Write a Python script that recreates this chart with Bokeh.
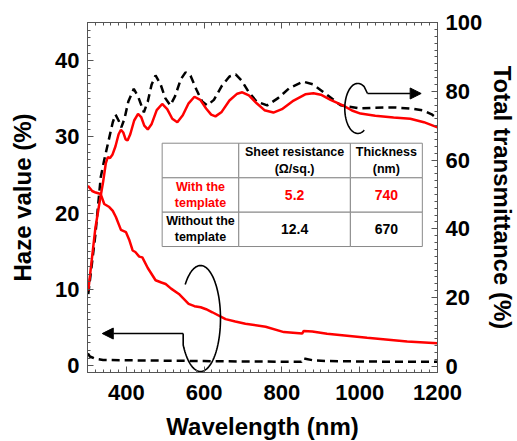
import numpy as np
from bokeh.plotting import figure
from bokeh.models import Range1d, LinearAxis, SingleIntervalTicker, Arrow, NormalHead, CustomJSTickFormatter
from bokeh.core.properties import value
from bokeh.embed import file_html
from bokeh.resources import INLINE

# ---------------- data ----------------
# Total transmittance, with the template (red, right axis)
tw_x = [302, 310, 320, 330, 340, 347, 352, 358, 364, 372, 380, 386, 392, 398, 403, 410, 420, 430, 438,
        446, 455, 465, 478, 492, 505, 518, 531, 545, 560, 575, 590, 605, 618, 629, 645, 665, 685, 698,
        715, 735, 755, 778, 800, 830, 860, 881, 900, 925, 958, 980, 1002, 1040, 1087, 1130, 1165, 1200]
tw_y = [22.0, 30.0, 40.0, 47.0, 53.5, 59.0, 60.8, 60.6, 61.5, 64.0, 67.5, 68.8, 68.0, 66.0, 65.7, 67.5,
        71.5, 73.4, 72.5, 70.0, 68.9, 70.5, 74.5, 76.3, 74.8, 72.0, 71.0, 73.0, 76.5, 78.4, 77.5, 75.0,
        73.2, 72.7, 74.0, 77.3, 79.3, 79.7, 78.8, 76.5, 74.5, 73.8, 74.8, 77.3, 79.1, 79.4, 79.0, 77.5,
        75.8, 74.4, 73.5, 72.9, 72.4, 72.0, 71.0, 69.5]

# Total transmittance, without the template (black dashed, right axis)
two_x = [302, 320, 334, 343, 355, 365, 372, 380, 387, 395, 405, 419, 430, 445, 455, 465, 475, 488, 500,
         513, 525, 540, 552, 565, 580, 595, 608, 625, 645, 665, 681, 697, 715, 735, 762, 790, 820, 855,
         880, 910, 951, 1002, 1040, 1087, 1130, 1164, 1185, 1200]
two_y = [21.0, 38.0, 55.0, 60.0, 66.0, 71.0, 73.2, 71.5, 69.5, 72.0, 77.0, 80.7, 78.5, 73.9, 77.0, 82.0,
         84.6, 82.0, 78.0, 75.9, 78.5, 83.5, 85.5, 84.5, 80.5, 77.0, 75.9, 77.5, 81.5, 84.3, 84.9, 83.0,
         79.7, 77.0, 75.9, 78.0, 81.0, 82.8, 82.0, 79.5, 75.9, 75.0, 75.2, 75.3, 75.0, 74.4, 73.3, 72.0]

# Haze value, with the template (red, left axis)
hw_x = [301, 312, 321, 334, 343, 356, 365, 373, 386, 399, 408, 416, 423, 433, 441, 455, 475, 490, 501,
        515, 535, 560, 575, 591, 605, 621, 655, 680, 706, 758, 805, 852, 856, 878, 916, 1019, 1122, 1200]
hw_y = [23.6, 22.9, 22.7, 22.5, 21.2, 20.8, 20.3, 19.5, 17.8, 17.5, 16.4, 15.1, 14.9, 14.3, 14.2, 12.8,
        11.2, 10.9, 10.7, 10.1, 9.4, 8.1, 7.8, 7.65, 7.4, 7.0, 6.1, 5.8, 5.5, 5.1, 4.4, 4.2, 4.55, 4.48,
        4.17, 3.65, 3.16, 2.94]

# Haze value, without the template (black dashed, left axis)
hwo_x = [301, 306, 320, 340, 400, 500, 600, 700, 850, 853, 860, 880, 920, 1000, 1100, 1200]
hwo_y = [1.6, 1.2, 0.9, 0.75, 0.7, 0.65, 0.6, 0.55, 0.5, 0.95, 0.9, 0.7, 0.6, 0.55, 0.5, 0.5]

# Table contents
table_rows = ["", "With the\ntemplate", "Without the\ntemplate"]
table_cols = ["Sheet resistance\n(\u03a9/sq.)", "Thickness\n(nm)"]
sheet_res = ["5.2", "12.4"]
thickness = ["740", "670"]

# ---------------- styling ----------------
RED = "#ff0000"
AX = "#555555"
FONT = "Liberation Sans"

p = figure(frame_width=350, frame_height=350,
           x_range=Range1d(300, 1200), y_range=Range1d(-0.9, 45),
           output_backend="svg", toolbar_location=None,
           min_border_left=87, min_border_right=72, min_border_top=22, min_border_bottom=60)
p.extra_y_ranges = {"T": Range1d(-1.8, 100)}
p.grid.visible = False
p.outline_line_color = AX
p.background_fill_color = "white"
p.border_fill_color = "white"

bottom = p.below[0]
left = p.left[0]
bottom.ticker = SingleIntervalTicker(interval=200, num_minor_ticks=10)
left.ticker = SingleIntervalTicker(interval=10, num_minor_ticks=10)

right = LinearAxis(y_range_name="T", ticker=SingleIntervalTicker(interval=20, num_minor_ticks=10))
p.add_layout(right, "right")
top = LinearAxis(ticker=SingleIntervalTicker(interval=200, num_minor_ticks=10),
                 formatter=CustomJSTickFormatter(code="return '';"))
top.major_label_standoff = 0
p.add_layout(top, "above")

bottom.axis_label = "Wavelength (nm)"
left.axis_label = "Haze value (%)"
right.axis_label = "Total transmittance (%)"

for ax in [bottom, left, right, top]:
    ax.axis_line_color = AX
    ax.major_tick_line_color = AX
    ax.minor_tick_line_color = AX
    ax.major_tick_in = 6
    ax.major_tick_out = 0
    ax.minor_tick_in = 3
    ax.minor_tick_out = 0
    ax.major_label_text_font = FONT
    ax.major_label_text_font_style = "bold"
    ax.major_label_text_color = "black"
    ax.axis_label_text_font = FONT
    ax.axis_label_text_font_style = "bold"
    ax.axis_label_text_color = "black"
    ax.axis_label_text_font_size = "24px"
for ax in [bottom, left, right]:
    ax.major_label_text_font_size = "22px"
bottom.major_label_standoff = 12
left.major_label_standoff = 8
right.major_label_standoff = 8
bottom.axis_label_standoff = 10
left.axis_label_standoff = 16
right.axis_label_standoff = 4
bottom.major_label_overrides = {200: ""}

# ---------------- curves ----------------
p.line(two_x, two_y, y_range_name="T", line_color="black", line_width=2.5, line_dash="8 5")
p.line(hwo_x, hwo_y, line_color="black", line_width=2.5, line_dash="8 5")
p.line(tw_x, tw_y, y_range_name="T", line_color=RED, line_width=2.5)
p.line(hw_x, hw_y, line_color=RED, line_width=2.5)

# ---------------- annotations: loops + arrows ----------------
# upper (transmittance) loop, in right-axis units
t = np.radians(np.linspace(60, 300, 80))
ux = [1020] + list(995 + 33.4 * np.cos(t))
uy = [79.35] + list(75.0 + 7.27 * np.sin(t))
p.line(ux, uy, y_range_name="T", line_color="black", line_width=1.6)
p.add_layout(Arrow(end=NormalHead(size=11, fill_color="black", line_color="black"),
                   x_start=1020, y_start=79.35, x_end=1158, y_end=79.35,
                   y_range_name="T", line_color="black", line_width=1.6))

# lower (haze) loop, in left-axis units
t2 = np.radians(np.linspace(140, -150, 100))
lx = list(590.6 + 51.4 * np.cos(t2)) + [546]
ly = list(6.18 + 6.95 * np.sin(t2)) + [4.21]
p.line(lx, ly, line_color="black", line_width=1.6)
p.add_layout(Arrow(end=NormalHead(size=11, fill_color="black", line_color="black"),
                   x_start=546, y_start=4.21, x_end=338, y_end=4.21,
                   line_color="black", line_width=1.6))

# ---------------- table ----------------
col_edges = [492, 689, 976, 1161]
row_edges = [29.17, 24.63, 20.12, 15.62]
L, R, T_, B = [], [], [], []
for i in range(3):
    for j in range(3):
        L.append(col_edges[j]); R.append(col_edges[j + 1])
        T_.append(row_edges[i]); B.append(row_edges[i + 1])
p.quad(left=L, right=R, top=T_, bottom=B, fill_color="white", line_color="#8a8a8a", line_width=1)

cx = [(col_edges[j] + col_edges[j + 1]) / 2 for j in range(3)]
cy = [(row_edges[i] + row_edges[i + 1]) / 2 for i in range(3)]

p.text(x=cx[1:], y=[cy[0]] * 2, text=table_cols, text_align="center", text_baseline="middle",
       text_font=value(FONT), text_font_style="bold", text_font_size="12.5px",
       text_color="black", text_line_height=1.15)
p.text(x=[cx[0]] * 2, y=cy[1:], text=table_rows[1:], text_align="center", text_baseline="middle",
       text_font=value(FONT), text_font_style="bold", text_font_size="12.5px",
       text_color=[RED, "black"], text_line_height=1.15)
p.text(x=[cx[1], cx[1]], y=cy[1:], text=sheet_res, text_align="center", text_baseline="middle",
       text_font=value(FONT), text_font_style="bold", text_font_size="14px",
       text_color=[RED, "black"])
p.text(x=[cx[2], cx[2]], y=cy[1:], text=thickness, text_align="center", text_baseline="middle",
       text_font=value(FONT), text_font_style="bold", text_font_size="14px",
       text_color=[RED, "black"])

open("out.html", "w").write(file_html(p, INLINE))
